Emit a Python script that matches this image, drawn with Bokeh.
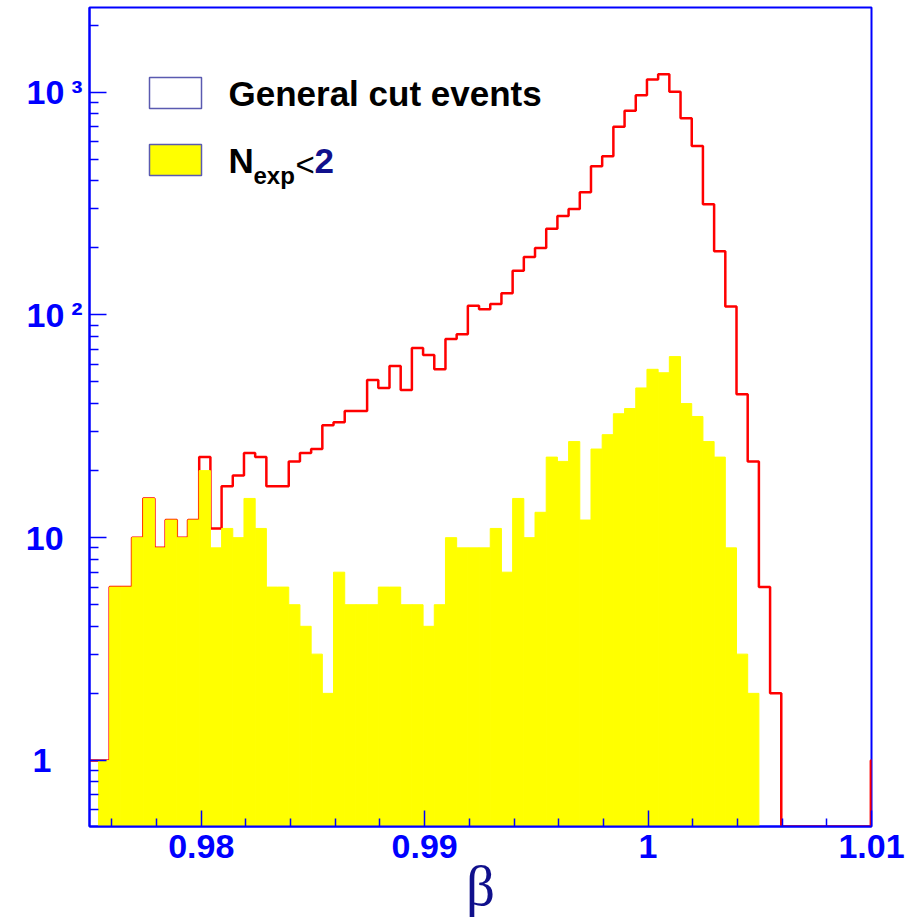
from bokeh.plotting import figure
from bokeh.models import (FixedTicker, CustomJSTickFormatter, Label, BoxAnnotation,
                          ColumnDataSource, Range1d)
from bokeh.embed import file_html
from bokeh.resources import INLINE

# ---- data (bin k = -1 .. 69) ----
bin_start = 0.9749
bin_width = 0.000501
general_counts = [1, 1, 6, 6, 10, 15, 9, 12, 10, 12,
                  23, 11, 17, 19, 24, 23, 17, 17, 22, 24,
                  25, 32, 33, 37, 37, 51, 47, 59, 46, 71,
                  66, 57, 78, 82, 110, 106, 112, 125, 158, 182,
                  200, 244, 278, 299, 355, 465, 516, 700, 826, 969,
                  1140, 1205, 1005, 763, 574, 314, 193, 109, 44, 22,
                  6, 2, 0, 0, 0, 0, 0, 0, 0, 0, 1]
nexp_counts = [0, 1, 6, 6, 10, 15, 9, 12, 10, 12,
               20, 9, 11, 10, 15, 11, 6, 6, 5, 4,
               3, 2, 7, 5, 5, 5, 6, 6, 5, 5,
               4, 5, 10, 9, 9, 9, 11, 7, 15, 10,
               13, 23, 22, 27, 12, 25, 29, 36, 38, 47,
               57, 55, 65, 40, 35, 27, 23, 9, 3, 2,
               0, 0, 0, 0, 0, 0, 0, 0, 0, 0, 0]
x_major = [0.98, 0.99, 1.0, 1.01]
x_minor = [0.976, 0.978, 0.982, 0.984, 0.986, 0.988, 0.992, 0.994, 0.996, 0.998,
           1.002, 1.004, 1.006, 1.008]
y_major = [1, 10, 100, 1000]
y_minor = [0.6, 0.7, 0.8, 0.9, 2, 3, 4, 5, 6, 7, 8, 9,
           20, 30, 40, 50, 60, 70, 80, 90, 200, 300, 400, 500, 600, 700, 800, 900, 2000]
y_labels = ["1", "10", "10\u2009\u00b2", "10\u2009\u00b3"]
x_title = "\u03b2"
legend_labels = ["General cut events", "N", "exp", "<", "2"]

X0, X1 = 0.975, 1.01
Y0, Y1 = 0.505, 2400

BLUE = "#0000ff"
NAVY = "#10108c"
FONT = "Liberation Sans"

p = figure(width=920, height=922, x_range=Range1d(X0, X1), y_range=Range1d(Y0, Y1),
           y_axis_type="log", output_backend="svg", toolbar_location=None,
           min_border_left=89, min_border_right=49, min_border_top=7, min_border_bottom=96)
p.xgrid.visible = False
p.ygrid.visible = False
p.outline_line_color = BLUE
p.outline_line_width = 2
p.background_fill_color = "white"
p.border_fill_color = "white"

# ---- histograms ----
nb = len(general_counts)
edges = [bin_start + bin_width * i for i in range(nb + 1)]

sx = [edges[0]]
sy = [Y0]
for i, c in enumerate(general_counts):
    v = c if c > 0 else Y0
    sx += [edges[i], edges[i + 1]]
    sy += [v, v]
sx.append(edges[-1])
sy.append(Y0)
p.line(sx, sy, line_color="#ff0000", line_width=2.5)

ql, qr, qt = [], [], []
for i, c in enumerate(nexp_counts):
    if c > 0:
        ql.append(edges[i]); qr.append(edges[i + 1]); qt.append(c)
src = ColumnDataSource(dict(left=ql, right=qr, top=qt, bottom=[0.01] * len(qt)))
p.quad(left="left", right="right", top="top", bottom="bottom", source=src,
       fill_color="#ffff00", line_color="#ffff00", line_width=1)

# ---- axes ----
xa = p.xaxis[0]
xa.ticker = FixedTicker(ticks=x_major, minor_ticks=x_minor)
xa.formatter = CustomJSTickFormatter(
    code="return tick.toFixed(2).replace(/0+$/,'').replace(/\\.$/,'')")
xa.axis_line_color = BLUE
xa.axis_line_width = 2
xa.major_tick_line_color = BLUE
xa.minor_tick_line_color = BLUE
xa.major_tick_line_width = 1.5
xa.minor_tick_line_width = 1.5
xa.major_tick_in = 16
xa.major_tick_out = 0
xa.minor_tick_in = 8
xa.minor_tick_out = 0
xa.major_label_text_font = FONT
xa.major_label_text_font_style = "bold"
xa.major_label_text_font_size = "34px"
xa.major_label_text_color = BLUE
xa.major_label_standoff = 8
xa.axis_label = x_title
xa.axis_label_text_font = "Liberation Serif"
xa.axis_label_text_font_style = "normal"
xa.axis_label_text_font_size = "57px"
xa.axis_label_text_color = NAVY
xa.axis_label_standoff = -7

# padding so that the label bodies line up like the reference
pads = ["\u2007\u2008\u200a", "\u2007", "", ""]
ylabs = [l + pd for l, pd in zip(y_labels, pads)]

ya = p.yaxis[0]
ya.ticker = FixedTicker(ticks=y_major, minor_ticks=y_minor)
ya.formatter = CustomJSTickFormatter(
    args=dict(vals=y_major, labs=ylabs),
    code="const i = vals.findIndex(v => Math.abs(v - tick) < 1e-6 * v); return i >= 0 ? labs[i] : ''")
ya.axis_line_color = BLUE
ya.axis_line_width = 2
ya.major_tick_line_color = BLUE
ya.minor_tick_line_color = BLUE
ya.major_tick_line_width = 1.5
ya.minor_tick_line_width = 1.5
ya.major_tick_in = 17
ya.major_tick_out = 0
ya.minor_tick_in = 9
ya.minor_tick_out = 0
ya.major_label_text_font = FONT
ya.major_label_text_font_style = "bold"
ya.major_label_text_font_size = "34px"
ya.major_label_text_color = BLUE
ya.major_label_standoff = 7

# ---- legend ----
p.add_layout(BoxAnnotation(left=149, right=201, top=77, bottom=108,
                           left_units="canvas", right_units="canvas",
                           top_units="canvas", bottom_units="canvas",
                           fill_color="white", fill_alpha=1.0,
                           line_color="#5a5ab0", line_alpha=1.0, line_width=1.5))
p.add_layout(BoxAnnotation(left=149, right=201, top=144, bottom=175,
                           left_units="canvas", right_units="canvas",
                           top_units="canvas", bottom_units="canvas",
                           fill_color="#ffff00", fill_alpha=1.0,
                           line_color="#5a5ab0", line_alpha=1.0, line_width=1.5))

def leg(x, y, text, size, bold=True, color="black"):
    p.add_layout(Label(x=x, y=y, x_units="canvas", y_units="canvas", text=text,
                       text_font=FONT, text_font_style="bold" if bold else "normal",
                       text_font_size=size, text_color=color,
                       text_align="left", text_baseline="middle"))

leg(228, 93, legend_labels[0], "35px")
leg(228, 160, legend_labels[1], "35px")
leg(253, 175, legend_labels[2], "24px")
leg(295, 164, legend_labels[3], "33px", bold=False)
leg(314, 160, legend_labels[4], "35px", color=NAVY)

open("out.html", "w").write(file_html(p, INLINE))
